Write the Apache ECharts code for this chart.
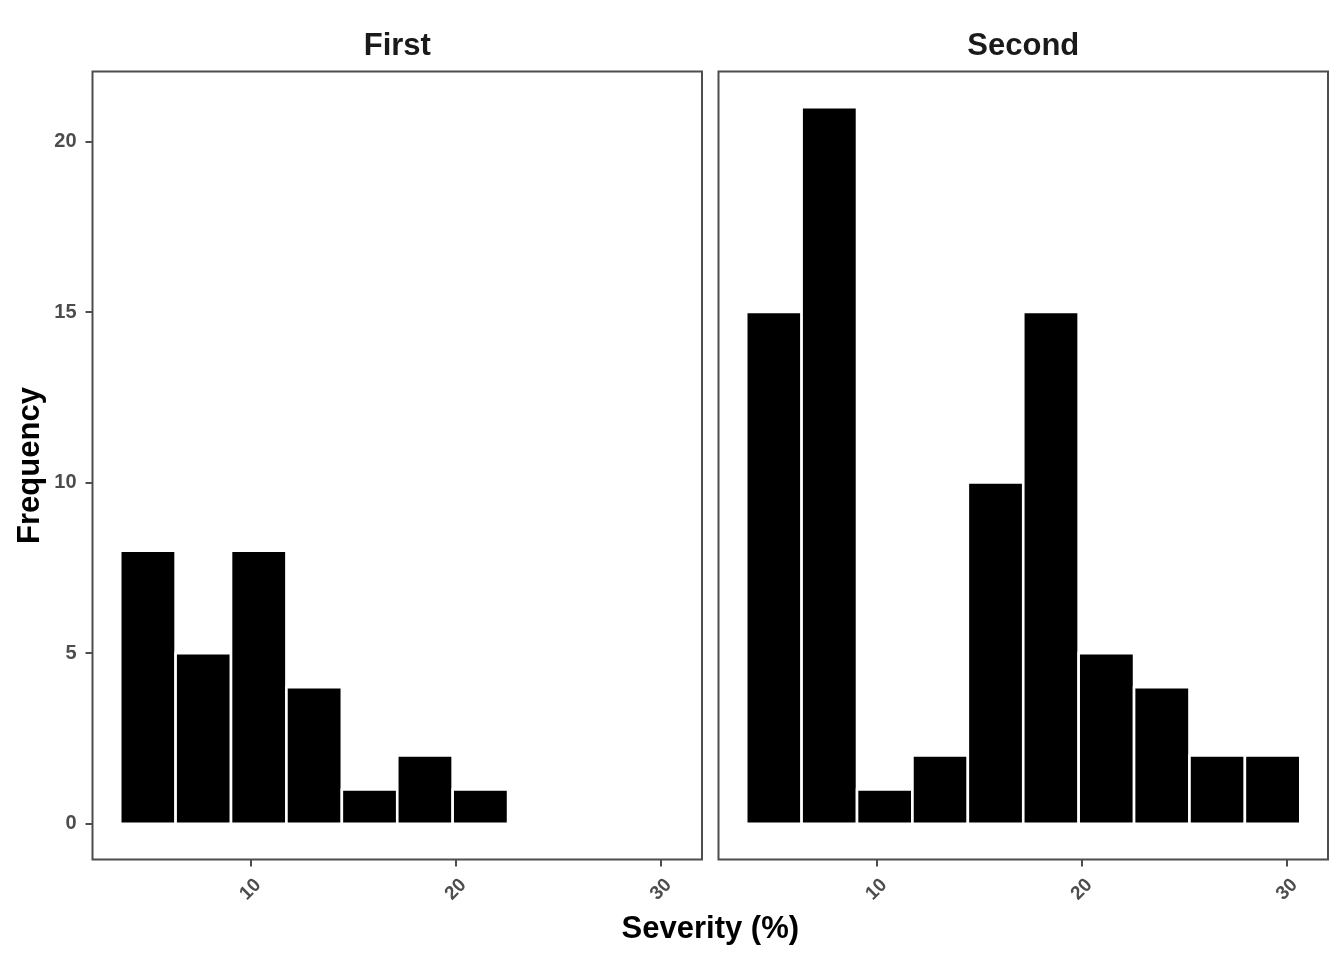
<!DOCTYPE html>
<html>
<head>
<meta charset="utf-8">
<script src="https://cdn.jsdelivr.net/npm/echarts@6/dist/echarts.min.js"></script>
<style>html,body{margin:0;padding:0;background:#fff}#chart{width:1344px;height:960px}</style>
</head>
<body>
<div id="chart"></div>
<script>
// Data
const panelNames = ['First', 'Second'];
const binEdges = [3.65, 6.35, 9.05, 11.75, 14.45, 17.15, 19.85, 22.55, 25.25, 27.95, 30.65];
const countsFirst = [8, 5, 8, 4, 1, 2, 1];
const countsSecond = [15, 21, 1, 2, 10, 15, 5, 4, 2, 2];
const xTicks = [10, 20, 30];
const yTicks = [0, 5, 10, 15, 20];

const FONT = '"Liberation Sans", Arial, sans-serif';
const GREY = '#4d4d4d';

function binData(counts) {
  return counts.map((c, i) => [binEdges[i], binEdges[i + 1], c]);
}

// ggplot-like 5% expansion
const xSpan = binEdges[binEdges.length - 1] - binEdges[0];
const xMin = binEdges[0] - 0.05 * xSpan;
const xMax = binEdges[binEdges.length - 1] + 0.05 * xSpan;
const yMaxData = Math.max(...countsFirst, ...countsSecond);
const yMin = -0.05 * yMaxData;
const yMax = yMaxData * 1.05;

const grids = [
  {left: 92.5, top: 71.5, width: 609.5, height: 788},
  {left: 718.5, top: 71.5, width: 609.5, height: 788}
];

function renderItem(params, api) {
  const x0 = api.value(0), x1 = api.value(1), y = api.value(2);
  const p0 = api.coord([x0, y]);
  const p1 = api.coord([x1, 0]);
  return {
    type: 'rect',
    shape: {x: p0[0], y: p0[1], width: p1[0] - p0[0], height: p1[1] - p0[1]},
    style: {fill: '#000000', stroke: '#ffffff', lineWidth: 2.6}
  };
}

const titleStyle = {fontSize: 31, fontWeight: 'bold', color: '#1a1a1a', fontFamily: FONT};

const option = {
  animation: false,
  backgroundColor: '#ffffff',
  title: [
    {text: panelNames[0], left: 397.3, top: 31, padding: 0, textAlign: 'center', textStyle: titleStyle},
    {text: panelNames[1], left: 1023.3, top: 31, padding: 0, textAlign: 'center', textStyle: titleStyle},
    {text: 'Severity (%)', left: 710.3, top: 914, padding: 0, textAlign: 'center',
     textStyle: Object.assign({}, titleStyle, {color: '#000000'})}
  ],
  grid: grids.map(g => Object.assign({show: true, borderColor: GREY, borderWidth: 2, backgroundColor: '#fff'}, g)),
  xAxis: [0, 1].map(i => ({
    type: 'value', gridIndex: i, min: xMin, max: xMax, position: 'bottom',
    splitLine: {show: false},
    axisLine: {show: false, onZero: false},
    axisTick: {show: true, customValues: xTicks, length: 7, lineStyle: {color: GREY, width: 2}},
    axisLabel: {show: true, customValues: xTicks, rotate: 45, align: 'center', verticalAlign: 'middle',
      margin: 30, fontSize: 19, fontWeight: 'bold', color: GREY, fontFamily: FONT}
  })),
  yAxis: [0, 1].map(i => ({
    type: 'value', gridIndex: i, min: yMin, max: yMax, position: 'left',
    name: i === 0 ? 'Frequency' : '',
    nameLocation: 'middle', nameGap: 47,
    nameTextStyle: {fontSize: 31, fontWeight: 'bold', color: '#000000', fontFamily: FONT},
    splitLine: {show: false},
    axisLine: {show: false, onZero: false},
    axisTick: {show: i === 0, customValues: yTicks, length: 7, lineStyle: {color: GREY, width: 2}},
    axisLabel: {show: i === 0, customValues: yTicks, margin: 16, fontSize: 20, fontWeight: 'bold',
      color: GREY, fontFamily: FONT}
  })),
  series: [
    {type: 'custom', xAxisIndex: 0, yAxisIndex: 0, renderItem, encode: {x: [0, 1], y: 2}, data: binData(countsFirst)},
    {type: 'custom', xAxisIndex: 1, yAxisIndex: 1, renderItem, encode: {x: [0, 1], y: 2}, data: binData(countsSecond)}
  ]
};

const chart = echarts.init(document.getElementById('chart'), null, {renderer: 'canvas'});
chart.setOption(option);
</script>
</body>
</html>
